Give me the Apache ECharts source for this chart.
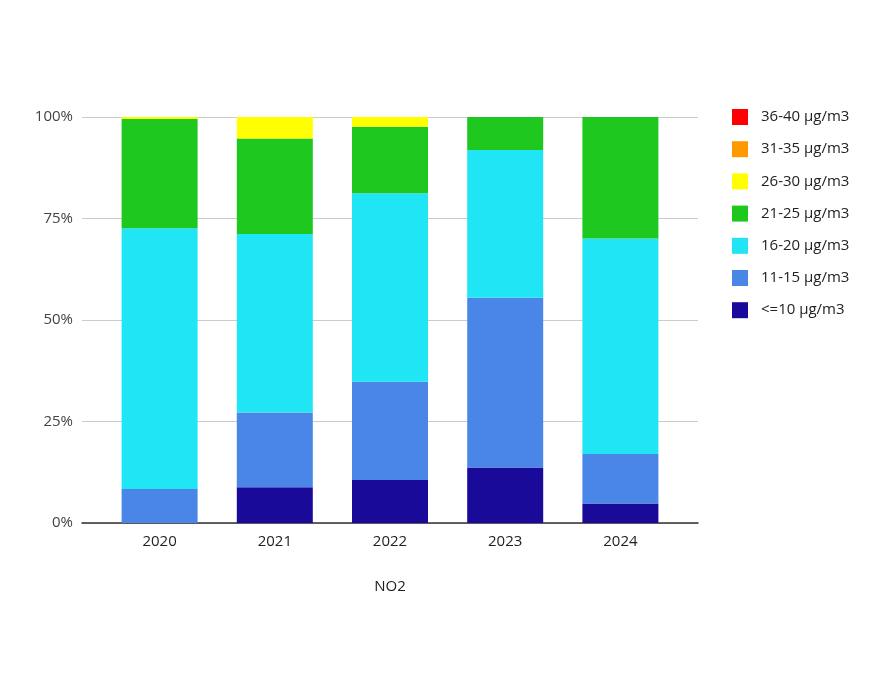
<!DOCTYPE html>
<html>
<head>
<meta charset="utf-8">
<title>NO2</title>
<script src="https://cdn.jsdelivr.net/npm/echarts@6/dist/echarts.min.js"></script>
<style>
    html, body { margin: 0; padding: 0; background: #fff; }
    #main { width: 882px; height: 682px; }
</style>
</head>
<body>
<div id="main"></div>
<script>
//年份
var years = ['2020', '2021', '2022', '2023', '2024'];
//各浓度区间占比(%)
var lv10 = [0, 8.8, 10.6, 13.7, 4.8];
var lv15 = [8.4, 18.4, 24.2, 41.8, 12.2];
var lv20 = [64.2, 44.0, 46.4, 36.4, 53.1];
var lv25 = [26.9, 23.5, 16.4, 8.1, 29.9];
var lv30 = [0.5, 5.3, 2.4, 0, 0];
var lv35 = [0, 0, 0, 0, 0];
var lv40 = [0, 0, 0, 0, 0];
var yTicks = [0, 25, 50, 75, 100];

var names = ['<=10 μg/m3', '11-15 μg/m3', '16-20 μg/m3', '21-25 μg/m3', '26-30 μg/m3', '31-35 μg/m3', '36-40 μg/m3'];
var colors = ['#1a0a9a', '#4a86e8', '#20e5f5', '#1ec81e', '#ffff00', '#ff9900', '#ff0000'];
var values = [lv10, lv15, lv20, lv25, lv30, lv35, lv40];

var font = '"Open Sans", "Liberation Sans", sans-serif';

var series = [];
for (var i = 0; i < names.length; i++) {
    series.push({
        name: names[i],
        type: 'bar',
        stack: 'total',
        xAxisIndex: 1,
        yAxisIndex: 1,
        barWidth: 76,
        itemStyle: { color: colors[i] },
        data: values[i]
    });
}

var myChart = echarts.init(document.getElementById('main'));
myChart.setOption({
    animation: false,
    backgroundColor: '#fff',
    textStyle: { fontFamily: font },
    legend: {
        orient: 'vertical',
        left: 727,
        top: 104,
        itemWidth: 16,
        itemHeight: 16,
        itemGap: 16.2,
        icon: 'rect',
        textStyle: { fontFamily: font, fontSize: 15, color: '#222', padding: [0, 0, 0, 8] },
        data: names.slice().reverse()
    },
    //背景网格(网格线比柱子区域更宽)
    grid: [
        { left: 82, right: 184, top: 117, bottom: 159 },
        { left: 102, right: 204, top: 117, bottom: 159 }
    ],
    xAxis: [
        {
            type: 'category',
            gridIndex: 0,
            data: years,
            axisLine: { show: true, lineStyle: { color: '#333', width: 1.5 } },
            axisTick: { show: false },
            axisLabel: { show: false },
            name: 'NO2',
            nameLocation: 'middle',
            nameGap: 56,
            nameTextStyle: { fontFamily: font, fontSize: 15, color: '#222' }
        },
        {
            type: 'category',
            gridIndex: 1,
            data: years,
            axisLine: { show: false },
            axisTick: { show: false },
            axisLabel: { fontFamily: font, fontSize: 15, color: '#222', margin: 11 }
        }
    ],
    yAxis: [
        {
            type: 'value',
            gridIndex: 0,
            min: yTicks[0],
            max: yTicks[yTicks.length - 1],
            interval: 25,
            axisLine: { show: false },
            axisTick: { show: false },
            axisLabel: { fontFamily: font, fontSize: 15, color: '#444', margin: 9, formatter: '{value}%' },
            splitLine: { lineStyle: { color: '#ccc', width: 1 } }
        },
        {
            type: 'value',
            gridIndex: 1,
            min: 0,
            max: 100,
            interval: 25,
            show: false
        }
    ],
    series: series
});
</script>
</body>
</html>
